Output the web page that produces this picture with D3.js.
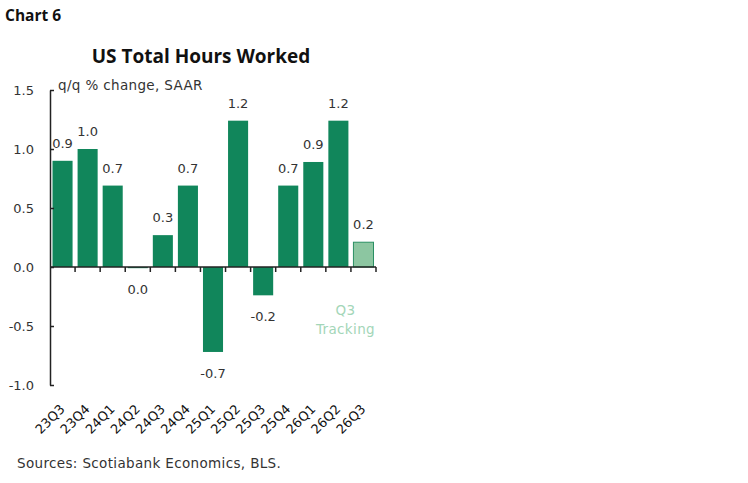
<!DOCTYPE html>
<html><head><meta charset="utf-8">
<script src="https://cdn.jsdelivr.net/npm/d3@7"></script>
<style>
body{margin:0;background:#fff;}
</style></head>
<body>
<svg id="c" width="748" height="483"></svg>
<script>
const categories = ["23Q3","23Q4","24Q1","24Q2","24Q3","24Q4","25Q1","25Q2","25Q3","25Q4","26Q1","26Q2","26Q3"];
const values = [0.90, 1.00, 0.69, -0.01, 0.27, 0.69, -0.72, 1.24, -0.24, 0.69, 0.89, 1.24, 0.21];
const tracking = [false,false,false,false,false,false,false,false,false,false,false,false,true];
const yTicks = [-1.0, -0.5, 0.0, 0.5, 1.0, 1.5];

const svg = d3.select("#c");
const x = d3.scaleBand().domain(categories).range([50, 376]).paddingInner(0.2).paddingOuter(0.1);
const y = d3.scaleLinear().domain([-1, 1.5]).range([385, 90]);
const green = "#11865b", light = "#8cc6a1", ink = "#333";
const fmt1 = d3.format(".1f");
const fmt = v => Math.abs(v) < 0.05 ? "0.0" : fmt1(v).replace("\u2212","-");
const sans = '"DejaVu Sans",sans-serif';
const head = '"Open Sans",sans-serif';

svg.append("text").attr("x",5).attr("y",21).style("font-family",head).style("font-size","15.5px").style("font-weight","bold").attr("fill","#111").text("Chart 6");
svg.append("text").attr("x",201).attr("y",63).attr("text-anchor","middle").style("font-family",head).style("font-size","19px").style("font-weight","bold").attr("fill","#111").text("US Total Hours Worked");
svg.append("text").attr("x",58).attr("y",90).style("font-family",sans).style("font-size","13.5px").style("letter-spacing","0.35px").attr("fill",ink).text("q/q % change, SAAR");

// bars
svg.append("g").selectAll("rect").data(categories).join("rect")
  .attr("x", c => x(c))
  .attr("width", x.bandwidth())
  .attr("y", (c,i) => y(Math.max(0, values[i])))
  .attr("height", (c,i) => Math.abs(y(values[i]) - y(0)))
  .attr("fill", (c,i) => tracking[i] ? light : green)
  .attr("stroke", (c,i) => tracking[i] ? "#2a8f63" : "none")
  .attr("stroke-width", 1);

// value labels
svg.append("g").selectAll("text").data(categories).join("text")
  .attr("x", c => x(c) + x.bandwidth()/2)
  .attr("y", (c,i) => values[i] >= 0 ? y(values[i]) - 13 : y(values[i]) + 26)
  .attr("text-anchor","middle").style("font-family",sans).style("font-size","13px").attr("fill",ink)
  .text((c,i) => fmt(values[i]));

// y axis
const yAxis = d3.axisLeft(y).tickValues(yTicks).tickFormat(v => fmt1(v).replace("\u2212","-")).tickSizeInner(-4).tickSizeOuter(0).tickPadding(16);
const gy = svg.append("g").attr("transform","translate(50,0)").call(yAxis);
gy.selectAll("path,line").attr("stroke","#222").attr("stroke-width",1.5);
gy.selectAll("text").attr("fill",ink).attr("font-family",null).attr("font-size",null).style("font-family",sans).style("font-size","13px");

// x zero line with boundary ticks
const g0 = svg.append("g");
const r = x.range();
g0.append("line").attr("x1",r[0]).attr("x2",r[1]).attr("y1",y(0)).attr("y2",y(0)).attr("stroke","#222").attr("stroke-width",1.5);
g0.selectAll("line.t").data(d3.range(1, categories.length+1)).join("line").attr("class","t")
  .attr("x1", i => r[0] + i*x.step()).attr("x2", i => r[0] + i*x.step())
  .attr("y1", y(0)).attr("y2", y(0)+5).attr("stroke","#222").attr("stroke-width",1.5);

// x labels
svg.append("g").selectAll("text").data(categories).join("text")
  .attr("transform", c => `translate(${x(c)+x.bandwidth()/2+3},${410}) rotate(-45)`)
  .attr("text-anchor","end").style("font-family",sans).style("font-size","13px").attr("fill","#111")
  .text(c => c);

// tracking annotation
const ti = categories.length-1;
const tx = x(categories[ti]) + x.bandwidth()/2 - 18;
svg.append("text").attr("x",tx).attr("y",315).attr("text-anchor","middle").style("font-family",sans).style("font-size","13.5px").style("letter-spacing","0.35px").attr("fill","#a3d6b8").text("Q3");
svg.append("text").attr("x",tx).attr("y",334).attr("text-anchor","middle").style("font-family",sans).style("font-size","13.5px").style("letter-spacing","0.35px").attr("fill","#a3d6b8").text("Tracking");

svg.append("text").attr("x",17).attr("y",468).style("font-family",sans).style("font-size","13.5px").style("letter-spacing","0.35px").attr("fill",ink).text("Sources: Scotiabank Economics, BLS.");
</script>
</body></html>
